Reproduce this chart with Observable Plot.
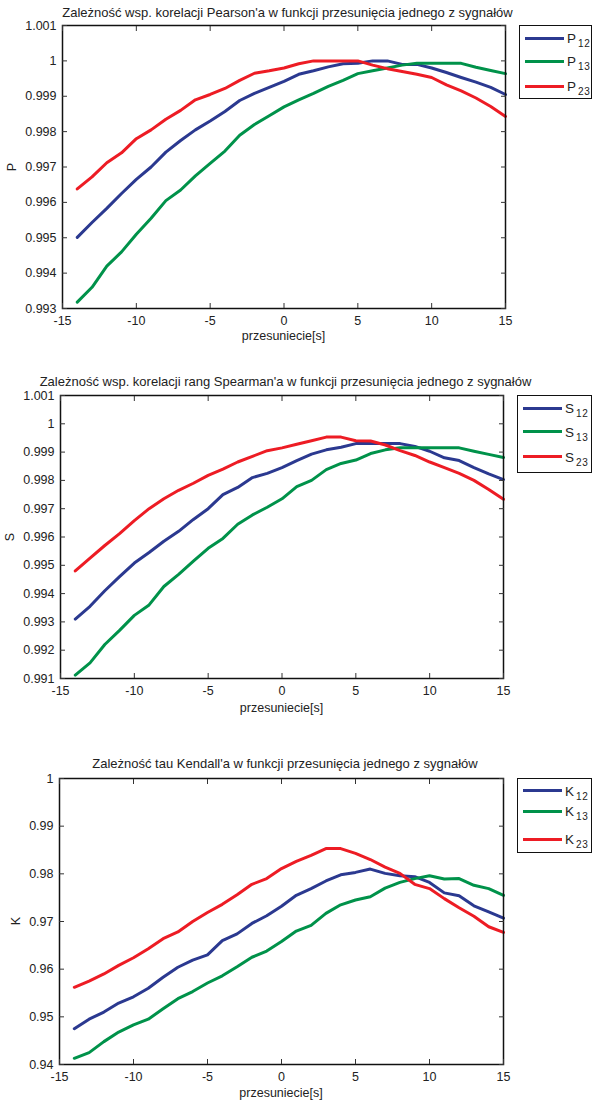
<!DOCTYPE html>
<html><head><meta charset="utf-8">
<script src="https://cdn.jsdelivr.net/npm/d3@7"></script>
<script src="https://cdn.jsdelivr.net/npm/@observablehq/plot@0.6"></script>
<style>
body{margin:0;background:#fff;font-family:"Liberation Sans",Arial,sans-serif;color:#222}
#root{position:relative;width:593px;height:1104px;overflow:hidden;background:#fff}
.abs{position:absolute}
.t{position:absolute;white-space:nowrap;font-size:13px;transform:translate(-50%,-50%);line-height:1}
.xl{position:absolute;white-space:nowrap;font-size:12.5px;transform:translate(-50%,-50%);line-height:1}
.yl{position:absolute;white-space:nowrap;font-size:12.5px;transform:translate(-50%,-50%) rotate(-90deg);line-height:1}
.leg{position:absolute;border:1.5px solid #111;background:#fff;box-sizing:border-box}
.ln{position:absolute;height:3px}
.lt{position:absolute;font-size:13.5px;line-height:1;white-space:nowrap}
.lt sub{font-size:10px;letter-spacing:0.6px;vertical-align:-4px;margin-left:2px}
</style>
</head><body><div id="root"></div>
<script>
// ---- data ----
const shifts = [-14,-13,-12,-11,-10,-9,-8,-7,-6,-5,-4,-3,-2,-1,0,1,2,3,4,5,6,7,8,9,10,11,12,13,14,15];

const P12 = [0.99501,0.99543,0.99583,0.99625,0.99665,0.99700,0.99742,0.99775,0.99805,0.99830,0.99857,0.99888,0.99908,0.99925,0.99942,0.99962,0.99972,0.99983,0.99992,0.99993,1.00000,1.00000,0.99990,0.99990,0.99980,0.99967,0.99953,0.99940,0.99925,0.99905];
const P13 = [0.99318,0.99360,0.99420,0.99460,0.99510,0.99555,0.99605,0.99635,0.99675,0.99710,0.99745,0.99790,0.99820,0.99845,0.99870,0.99890,0.99908,0.99928,0.99945,0.99964,0.99972,0.99980,0.99988,0.99993,0.99993,0.99993,0.99993,0.99982,0.99973,0.99964];
const P23 = [0.99638,0.99672,0.99712,0.99740,0.99780,0.99805,0.99835,0.99860,0.99890,0.99905,0.99922,0.99945,0.99965,0.99972,0.99980,0.99992,1.00000,1.00000,1.00000,1.00000,0.99988,0.99978,0.99970,0.99962,0.99953,0.99932,0.99915,0.99895,0.99871,0.99843];

const S12 = [0.99310,0.99355,0.99410,0.99460,0.99508,0.99545,0.99585,0.99620,0.99662,0.99700,0.99750,0.99775,0.99810,0.99825,0.99845,0.99870,0.99893,0.99908,0.99917,0.99930,0.99930,0.99930,0.99930,0.99920,0.99903,0.99880,0.99870,0.99845,0.99823,0.99803];
const S13 = [0.99112,0.99155,0.99220,0.99270,0.99323,0.99360,0.99425,0.99468,0.99515,0.99560,0.99595,0.99645,0.99678,0.99705,0.99735,0.99778,0.99800,0.99838,0.99860,0.99872,0.99895,0.99908,0.99915,0.99915,0.99915,0.99915,0.99915,0.99903,0.99892,0.99881];
const S23 = [0.99480,0.99525,0.99570,0.99612,0.99658,0.99700,0.99735,0.99765,0.99790,0.99818,0.99840,0.99865,0.99885,0.99905,0.99915,0.99928,0.99940,0.99953,0.99953,0.99940,0.99939,0.99925,0.99905,0.99888,0.99865,0.99845,0.99825,0.99800,0.99768,0.99733];

const K12 = [0.94750,0.94950,0.95100,0.95290,0.95420,0.95600,0.95830,0.96040,0.96190,0.96300,0.96600,0.96740,0.96960,0.97120,0.97320,0.97550,0.97690,0.97850,0.97980,0.98030,0.98100,0.98010,0.97960,0.97940,0.97820,0.97600,0.97540,0.97330,0.97200,0.97070];
const K13 = [0.94130,0.94250,0.94480,0.94680,0.94830,0.94950,0.95170,0.95380,0.95530,0.95710,0.95860,0.96050,0.96250,0.96380,0.96580,0.96800,0.96920,0.97170,0.97350,0.97450,0.97520,0.97700,0.97820,0.97900,0.97960,0.97890,0.97900,0.97760,0.97690,0.97550];
const K23 = [0.95620,0.95750,0.95900,0.96080,0.96240,0.96430,0.96640,0.96780,0.97000,0.97190,0.97360,0.97560,0.97780,0.97900,0.98110,0.98260,0.98385,0.98530,0.98530,0.98430,0.98300,0.98140,0.98010,0.97780,0.97690,0.97480,0.97290,0.97110,0.96890,0.96770];

const xTicks = [-15,-10,-5,0,5,10,15];
const pTicks = [0.993,0.994,0.995,0.996,0.997,0.998,0.999,1,1.001];
const sTicks = [0.991,0.992,0.993,0.994,0.995,0.996,0.997,0.998,0.999,1,1.001];
const kTicks = [0.94,0.95,0.96,0.97,0.98,0.99,1];

const seriesColors = ["#2b3990","#00924a","#ed1c24"];

const titles = [
  "Zależność wsp. korelacji Pearson'a w funkcji przesunięcia jednego z sygnałów",
  "Zależność wsp. korelacji rang Spearman'a w funkcji przesunięcia jednego z sygnałów",
  "Zależność tau Kendall'a w funkcji przesunięcia jednego z sygnałów"
];
const xLabel = "przesuniecie[s]";

// ---- drawing ----
const root = document.getElementById("root");
const W = 593;

function el(cls, css, html) {
  const d = document.createElement("div");
  d.className = cls;
  Object.assign(d.style, css);
  if (html != null) d.innerHTML = html;
  root.appendChild(d);
  return d;
}

const panels = [
  {letter:"P", data:[P12,P13,P23], yDomain:[0.993,1.001], yTicks:pTicks, dec:3,
   svgTop:0, frameTop:25, frameBottom:308, left:62, right:505,
   titleY:12, xLabelY:336, yLabelX:12,
   leg:{left:519, top:25, bottom:99, rows:[38.3,61,86]}},
  {letter:"S", data:[S12,S13,S23], yDomain:[0.991,1.001], yTicks:sTicks, dec:3,
   svgTop:370, frameTop:395, frameBottom:678, left:60, right:503,
   titleY:381, xLabelY:708, yLabelX:10,
   leg:{left:517, top:395, bottom:473, rows:[408.3,431.7,456.7]}},
  {letter:"K", data:[K12,K13,K23], yDomain:[0.94,1], yTicks:kTicks, dec:2,
   svgTop:753, frameTop:778, frameBottom:1064, left:59, right:503,
   titleY:763, xLabelY:1093, yLabelX:16,
   leg:{left:517, top:778, bottom:853, rows:[790.7,811,839]}}
];
const subs = ["12","13","23"];

panels.forEach((p, pi) => {
  const names = subs.map(s => p.letter + s);
  const rows = [];
  p.data.forEach((arr, si) => arr.forEach((v, i) => rows.push({x: shifts[i], v, s: names[si]})));
  const height = p.frameBottom - p.svgTop + 32;
  const fmt = d => String(+d.toFixed(p.dec));
  const chart = Plot.plot({
    width: W, height,
    marginLeft: p.left, marginRight: W - p.right,
    marginTop: p.frameTop - p.svgTop, marginBottom: height - (p.frameBottom - p.svgTop),
    x: {domain: [-15, 15]},
    y: {domain: p.yDomain},
    color: {domain: names, range: seriesColors},
    style: {fontFamily: "'Liberation Sans', Arial, sans-serif", fontSize: "12.5px", color: "#222", background: "transparent", overflow: "visible"},
    marks: [
      Plot.line(rows, {x: "x", y: "v", z: "s", stroke: "s", strokeWidth: 3, strokeLinejoin: "round"}),
      Plot.frame({stroke: "#111", strokeWidth: 1.5}),
      Plot.axisX(xTicks, {anchor: "bottom", tickSize: 0, tickPadding: 8, tickFormat: d => String(d), label: null}),
      Plot.axisX(xTicks, {anchor: "bottom", tickSize: 5, dy: -5, fill: "none", stroke: "#333", label: null}),
      Plot.axisX(xTicks, {anchor: "top", tickSize: 5, dy: 5, fill: "none", stroke: "#333", label: null}),
      Plot.axisY(p.yTicks, {anchor: "left", tickSize: 0, tickPadding: 6, tickFormat: fmt, label: null}),
      Plot.axisY(p.yTicks, {anchor: "left", tickSize: 5, dx: 5, fill: "none", stroke: "#333", label: null}),
      Plot.axisY(p.yTicks, {anchor: "right", tickSize: 5, dx: -5, fill: "none", stroke: "#333", label: null})
    ]
  });
  const holder = el("abs", {left: "0px", top: p.svgTop + "px"});
  holder.appendChild(chart);

  const cx = (p.left + p.right) / 2;
  el("t", {left: (cx + 4) + "px", top: p.titleY + "px"}, titles[pi]);
  el("xl", {left: cx + "px", top: p.xLabelY + "px"}, xLabel);
  el("yl", {left: p.yLabelX + "px", top: ((p.frameTop + p.frameBottom) / 2) + "px"}, p.letter);

  const L = p.leg;
  el("leg", {left: L.left + "px", top: L.top + "px", width: (592 - L.left) + "px", height: (L.bottom - L.top) + "px"});
  L.rows.forEach((y, i) => {
    el("ln", {left: (L.left + 6) + "px", width: "39px", top: (y - 1.5) + "px", background: seriesColors[i]});
    el("lt", {left: (L.left + 48) + "px", top: (y - 6) + "px"}, p.letter + "<sub>" + subs[i] + "</sub>");
  });
});
</script>
</body></html>
